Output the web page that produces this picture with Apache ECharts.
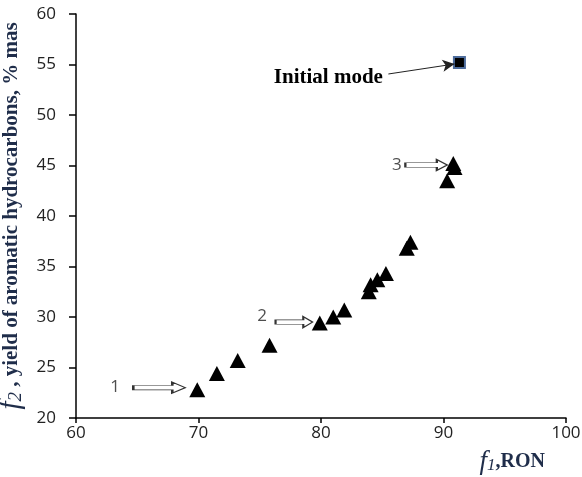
<!DOCTYPE html>
<html>
<head>
<meta charset="utf-8">
<script src="https://cdn.jsdelivr.net/npm/echarts@6/dist/echarts.min.js"></script>
<style>
  html, body { margin: 0; padding: 0; background: #fff; }
  #chart { width: 582px; height: 477px; }
</style>
</head>
<body>
<div id="chart"></div>
<script>
// f1 (RON) and f2 (aromatics yield, % mas) for the Pareto points
const ronValues = [69.9, 71.5, 73.2, 75.8, 79.9, 81.0, 81.9, 83.9, 84.05, 84.6, 85.3, 87.0, 87.3, 90.3, 90.9, 90.8]
const aromaticValues = [22.8, 24.4, 25.7, 27.2, 29.4, 30.0, 30.7, 32.5, 33.2, 33.7, 34.3, 36.8, 37.4, 43.5, 44.8, 45.2]

// initial mode point
const initialMode = [91.3, 55.2]

// numbered labels and the hollow arrows pointing at points 1, 2, 3
const pointLabels = ["1", "2", "3"]
const labelPositions = [[63.2, 23.1], [75.2, 30.1], [86.2, 45.05]]
const arrowPositions = [[66.8, 23.0], [77.8, 29.5], [88.6, 45.05]]
const arrowLengths = [52, 37, 42]

// "Initial mode" caption and its arrow
const captionPosition = [80.6, 53.7]
const captionArrow = [[85.5, 54.06], [90.9, 55.05]]

const xTicks = [60, 100, 10]
const yTicks = [20, 60, 5]

const chart = echarts.init(document.getElementById("chart"))

const blockArrow = "path://M0,3 L30,3 L30,0 L40,5 L30,10 L30,7 L0,7 Z"
const nameColor = "#1f2d4a"

chart.setOption({
  backgroundColor: "#fff",
  animation: false,
  grid: { left: 76, right: 16, top: 14, bottom: 59, outerBoundsMode: "none", containLabel: false },
  xAxis: {
    type: "value",
    min: xTicks[0],
    max: xTicks[1],
    interval: xTicks[2],
    splitLine: { show: false },
    axisLine: { onZero: false, lineStyle: { color: "#000", width: 1.5 } },
    axisTick: { length: 5, lineStyle: { color: "#000", width: 1.5 } },
    axisLabel: { color: "#222", fontFamily: "Open Sans", fontSize: 17, margin: 7 },
    name: "{f|f}{s|1}{t|,RON}",
    nameLocation: "end",
    nameGap: -21,
    nameTextStyle: {
      align: "right",
      verticalAlign: "top",
      padding: [30, 0, 0, 0],
      rich: {
        f: { fontFamily: "Liberation Serif", fontStyle: "italic", fontSize: 27, color: nameColor },
        s: { fontFamily: "Liberation Serif", fontStyle: "italic", fontSize: 17, color: nameColor, padding: [8, 0, 0, 0] },
        t: { fontFamily: "Liberation Serif", fontWeight: "bold", fontSize: 20, color: nameColor }
      }
    }
  },
  yAxis: {
    type: "value",
    min: yTicks[0],
    max: yTicks[1],
    interval: yTicks[2],
    splitLine: { show: false },
    axisLine: { show: true, onZero: false, lineStyle: { color: "#000", width: 1.5 } },
    axisTick: { show: true, length: 7, lineStyle: { color: "#000", width: 1.5 } },
    axisLabel: { color: "#222", fontFamily: "Open Sans", fontSize: 17, margin: 20 },
    name: "{f|f}{s|2}{t| , yield of aromatic hydrocarbons, % mas}",
    nameLocation: "middle",
    nameRotate: 90,
    nameGap: 38,
    nameTextStyle: {
      rich: {
        f: { fontFamily: "Liberation Serif", fontStyle: "italic", fontSize: 29, color: nameColor },
        s: { fontFamily: "Liberation Serif", fontStyle: "italic", fontSize: 19, color: nameColor, padding: [9, 0, 0, 0] },
        t: { fontFamily: "Liberation Serif", fontWeight: "bold", fontSize: 21, color: nameColor }
      }
    }
  },
  series: [
    {
      name: "Pareto",
      type: "scatter",
      symbol: "triangle",
      symbolSize: [16, 15],
      itemStyle: { color: "#000", opacity: 1 },
      data: ronValues.map((x, i) => [x, aromaticValues[i]]),
      z: 3
    },
    {
      name: "Initial mode",
      type: "scatter",
      symbol: "rect",
      symbolSize: 11,
      itemStyle: { color: "#000", opacity: 1, borderColor: "#4d6c9c", borderWidth: 2 },
      data: [initialMode],
      z: 4,
      markLine: {
        silent: true,
        symbol: ["none", "arrow"],
        symbolSize: [9, 12],
        label: { show: false },
        lineStyle: { color: "#222", width: 1, type: "solid" },
        data: [[{ coord: captionArrow[0] }, { coord: captionArrow[1] }]]
      }
    },
    {
      name: "caption",
      type: "scatter",
      silent: true,
      symbolSize: 0,
      data: [captionPosition],
      label: {
        show: true,
        position: "inside",
        formatter: "Initial mode",
        fontFamily: "Liberation Serif",
        fontWeight: "bold",
        fontSize: 21,
        color: "#000",
        opacity: 1
      }
    },
    {
      name: "numbers",
      type: "scatter",
      silent: true,
      symbolSize: 0,
      data: labelPositions.map((p, i) => ({ value: p, name: pointLabels[i] })),
      label: {
        show: true,
        position: "inside",
        formatter: "{b}",
        fontFamily: "Open Sans",
        fontSize: 17,
        color: "#222"
      }
    },
    {
      name: "arrows",
      type: "scatter",
      silent: true,
      symbol: blockArrow,
      data: arrowPositions.map((p, i) => ({ value: p, symbolSize: [arrowLengths[i], 11] })),
      itemStyle: { color: "#fff", opacity: 1, borderColor: "#333", borderWidth: 1.2 },
      z: 2
    }
  ]
})
</script>
</body>
</html>
